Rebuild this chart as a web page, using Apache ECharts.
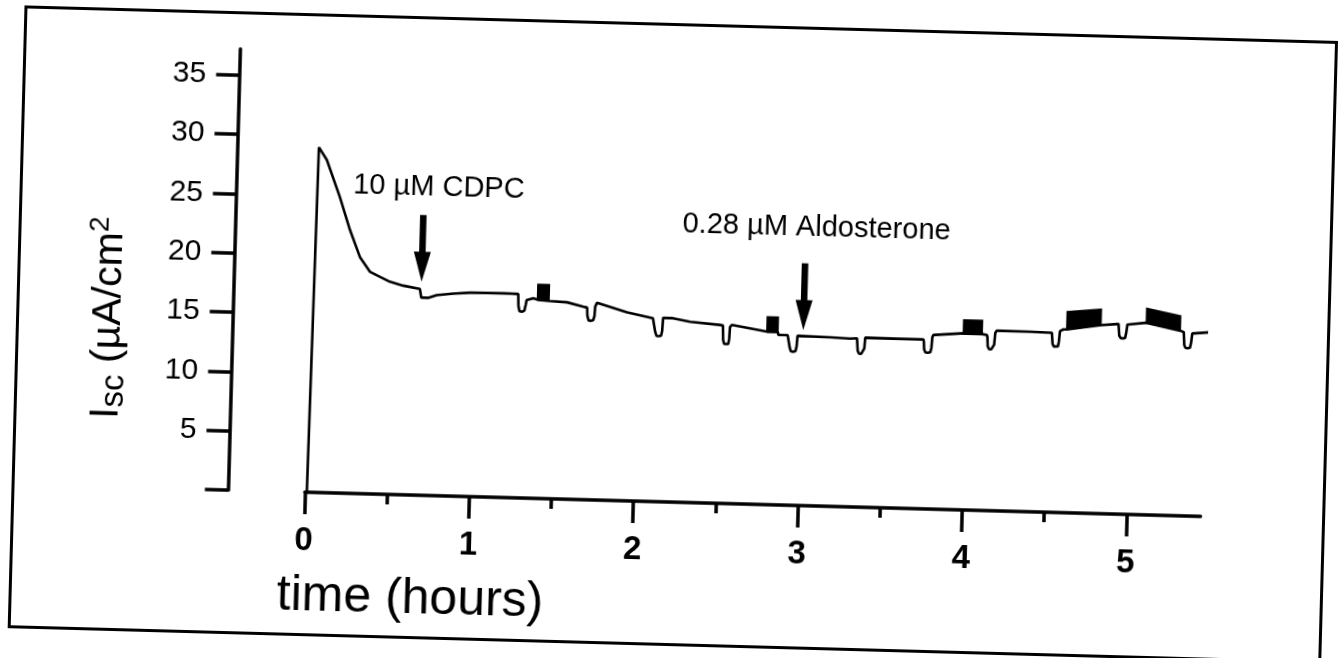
<!DOCTYPE html>
<html><head><meta charset="utf-8">
<script src="https://cdn.jsdelivr.net/npm/echarts@6/dist/echarts.min.js"></script>
<style>
html,body{margin:0;padding:0;background:#fff;overflow:hidden;}
#c{width:1341px;height:658px;transform:rotate(1.55deg);transform-origin:670.5px 329px;}
</style></head><body><div id="c"></div>
<script>
// ---- data ----
const xTickValues = [0, 1, 2, 3, 4, 5];
const xMinorTickValues = [0.5, 1.5, 2.5, 3.5, 4.5];
const yTickValues = [0, 5, 10, 15, 20, 25, 30, 35];
const yLabelValues = [5, 10, 15, 20, 25, 30, 35];

// short-circuit current trace: [time (h), Isc (µA/cm²)]
const trace = [
  [0.012, 0], [0.029, 29.1], [0.079, 28.05], [0.164, 24.97], [0.231, 22.21], [0.296, 19.95],
  [0.359, 18.73], [0.41, 18.39], [0.482, 17.93], [0.564, 17.63], [0.666, 17.39],
  [0.676, 16.66], [0.717, 16.66], [0.769, 16.9], [0.87, 17.08], [0.972, 17.19], [1.173, 17.22], [1.265, 17.19],
  [1.268, 16.2], [1.275, 15.75], [1.29, 15.7], [1.305, 15.8], [1.312, 16.3], [1.317, 16.7],
  [1.357, 16.86], [1.383, 16.75], [1.453, 16.67], [1.563, 16.6], [1.661, 16.27],
  [1.686, 16.2], [1.689, 15.5], [1.697, 15.12], [1.71, 15.1], [1.725, 15.15], [1.732, 15.5], [1.735, 16.3], [1.745, 16.64],
  [1.929, 15.89], [2.088, 15.45],
  [2.1, 15.4], [2.104, 14.3], [2.112, 13.98], [2.125, 13.96], [2.14, 14.0], [2.146, 14.4], [2.15, 15.52],
  [2.21, 15.5], [2.314, 15.24], [2.497, 15.04],
  [2.515, 15.0], [2.518, 13.8], [2.525, 13.45], [2.537, 13.42], [2.55, 13.46], [2.555, 13.9], [2.558, 14.9], [2.569, 15.07],
  [2.783, 14.58], [2.85, 14.57], [2.853, 14.33], [2.91, 14.33],
  [2.921, 14.3], [2.924, 13.3], [2.932, 12.98], [2.945, 12.95], [2.96, 13.0], [2.966, 13.4], [2.97, 14.3], [2.973, 14.45],
  [3.168, 14.25], [3.29, 14.18], [3.332, 14.23],
  [3.335, 14.1], [3.338, 13.2], [3.346, 12.94], [3.36, 12.92], [3.372, 12.96], [3.378, 13.4], [3.382, 14.3], [3.392, 14.44],
  [3.574, 14.28], [3.736, 14.29],
  [3.739, 14.1], [3.742, 13.45], [3.75, 13.2], [3.765, 13.18], [3.78, 13.22], [3.786, 13.6], [3.79, 14.5], [3.796, 14.68],
  [3.978, 14.89], [4.092, 14.87], [4.095, 14.8], [4.122, 14.8],
  [4.125, 14.6], [4.128, 13.85], [4.136, 13.62], [4.15, 13.6], [4.162, 13.64], [4.167, 14.0], [4.172, 15.0], [4.18, 15.19],
  [4.384, 15.18], [4.516, 15.14],
  [4.519, 15.0], [4.522, 14.2], [4.53, 13.99], [4.542, 13.97], [4.555, 14.0], [4.56, 14.4], [4.565, 15.3], [4.586, 15.45],
  [4.606, 15.46], [4.813, 15.9], [4.816, 16.05], [4.92, 16.03],
  [4.923, 15.9], [4.926, 15.05], [4.935, 14.85], [4.948, 14.83], [4.962, 14.86], [4.968, 15.3], [4.974, 16.0], [4.979, 16.16],
  [5.089, 16.2], [5.296, 15.61], [5.298, 15.52], [5.318, 15.5],
  [5.32, 15.45], [5.323, 14.4], [5.331, 14.16], [5.345, 14.14], [5.358, 14.18], [5.364, 14.6], [5.37, 15.4], [5.376, 15.5],
  [5.479, 15.54], [5.582, 15.49]
];

// filled (rapidly pulsed) blocks: [tStart, tEnd, topStart, topEnd, bottomStart, bottomEnd]
const blocks = [
  [1.383, 1.453, 18.05, 18.05, 16.75, 16.67],
  [2.783, 2.85, 15.84, 15.84, 14.58, 14.57],
  [3.978, 4.092, 16.02, 16.02, 14.89, 14.87],
  [4.606, 4.813, 16.95, 17.23, 15.46, 15.9],
  [5.089, 5.296, 17.42, 16.85, 16.2, 15.61]
];

// additions: arrow [time, top value, tip value], label text and label position
const arrowData = [[0.675, 23.63, 18.01], [3.004, 20.43, 14.8]];
const annotationText = ['10 µM CDPC', '0.28 µM Aldosterone'];
const annotationPos = [[0.765, 25.95], [3.068, 23.4]];

const FONT = 'Liberation Sans, Arial, Helvetica, sans-serif';

const chart = echarts.init(document.getElementById('c'), null, {renderer: 'canvas'});
chart.setOption({
  animation: false,
  backgroundColor: '#fff',
  grid: {left: 309.4, right: 135.6, top: 60.8, bottom: 156, containLabel: false},
  graphic: [{
    type: 'rect', left: 15, top: 22,
    shape: {width: 1311, height: 620},
    style: {fill: 'none', stroke: '#000', lineWidth: 3}
  }],
  xAxis: [{
    type: 'value', min: 0, max: 5.45, position: 'bottom',
    axisLine: {onZero: false, lineStyle: {color: '#000', width: 3.5}},
    axisTick: {length: 22, customValues: xTickValues, lineStyle: {color: '#000', width: 3.5}},
    axisLabel: {customValues: xTickValues, fontSize: 33, fontWeight: 'bold', color: '#000', fontFamily: FONT, margin: 32},
    splitLine: {show: false},
    name: 'time (hours)', nameLocation: 'middle', nameGap: 76,
    nameTextStyle: {fontSize: 50, color: '#000', fontFamily: FONT, lineHeight: 56, padding: [0, 680, 0, 0]}
  }, {
    type: 'value', min: 0, max: 5.45, position: 'bottom', offset: 0,
    axisLine: {show: false, onZero: false},
    axisTick: {length: 10, customValues: xMinorTickValues, lineStyle: {color: '#000', width: 3.5}},
    axisLabel: {show: false},
    splitLine: {show: false}
  }],
  yAxis: {
    type: 'value', min: 0, max: 37.2, position: 'left', offset: 77,
    axisLine: {show: true, onZero: false, lineStyle: {color: '#000', width: 3.5}},
    axisTick: {show: true, length: 23, customValues: yTickValues, lineStyle: {color: '#000', width: 3.5}},
    axisLabel: {customValues: yLabelValues, fontSize: 30, color: '#000', fontFamily: FONT, margin: 33},
    splitLine: {show: false},
    name: '{a|I}{b|sc}{a| (µA/cm}{c|2}',
    nameLocation: 'middle', nameRotate: 90, nameGap: 100,
    nameTextStyle: {
      padding: [0, 103, 0, 0],
      rich: {
        a: {fontSize: 41, fontFamily: FONT, color: '#000', lineHeight: 48},
        b: {fontSize: 33, fontFamily: FONT, color: '#000', lineHeight: 33, verticalAlign: 'bottom'},
        c: {fontSize: 28, fontFamily: FONT, color: '#000', lineHeight: 28, verticalAlign: 'top'}
      }
    }
  },
  series: [{
    type: 'line', data: trace, xAxisIndex: 0, showSymbol: false, symbol: 'none',
    clip: false, lineStyle: {color: '#000', width: 2.6}, z: 3
  }, {
    type: 'custom', data: blocks, xAxisIndex: 0, clip: false, z: 4,
    renderItem: function (params, api) {
      const pts = [
        api.coord([api.value(0), api.value(2)]),
        api.coord([api.value(1), api.value(3)]),
        api.coord([api.value(1), api.value(5)]),
        api.coord([api.value(0), api.value(4)])
      ];
      return {type: 'polygon', shape: {points: pts}, style: {fill: '#000', stroke: '#000', lineWidth: 1.5}};
    }
  }, {
    type: 'custom', data: arrowData, xAxisIndex: 0, clip: false, z: 5,
    renderItem: function (params, api) {
      const top = api.coord([api.value(0), api.value(1)]);
      const tip = api.coord([api.value(0), api.value(2)]);
      const headLen = 30, headHalf = 8.5;
      return {type: 'group', children: [
        {type: 'line', shape: {x1: tip[0], y1: top[1], x2: tip[0], y2: tip[1] - headLen + 2}, style: {stroke: '#000', lineWidth: 6.5}},
        {type: 'polygon', shape: {points: [[tip[0] - headHalf, tip[1] - headLen], [tip[0] + headHalf, tip[1] - headLen], [tip[0], tip[1]]]}, style: {fill: '#000'}}
      ]};
    }
  }, {
    type: 'custom', data: annotationPos.map((p, i) => [p[0], p[1], i]), xAxisIndex: 0, clip: false, z: 5,
    renderItem: function (params, api) {
      const p = api.coord([api.value(0), api.value(1)]);
      return {type: 'text', x: p[0], y: p[1], style: {
        text: annotationText[api.value(2)], fontSize: 29, fontFamily: FONT, fill: '#000',
        align: 'center', verticalAlign: 'middle'
      }};
    }
  }]
});
</script></body></html>
